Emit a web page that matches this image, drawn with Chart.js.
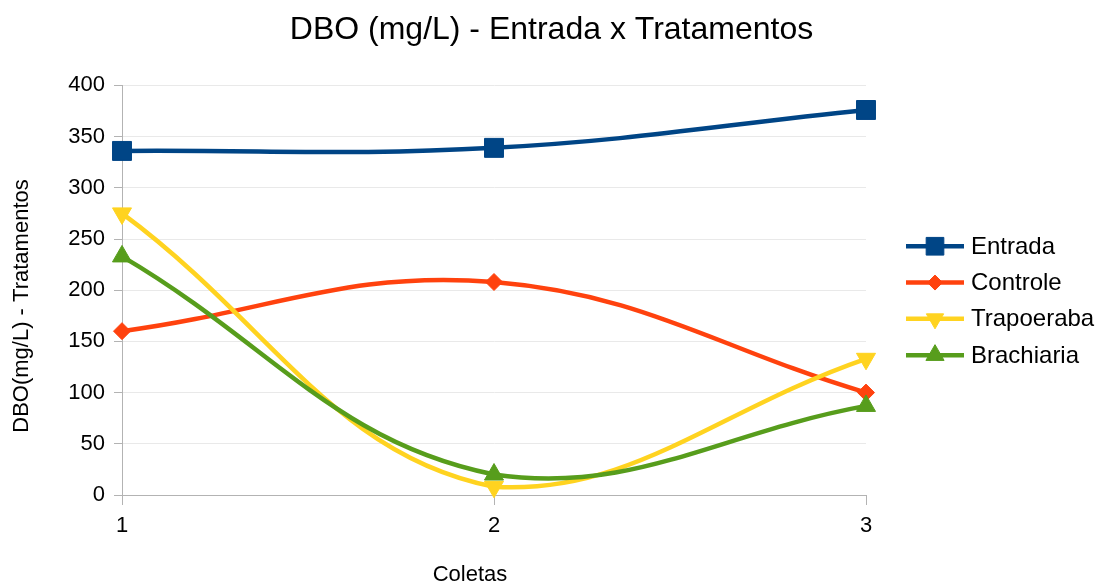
<!DOCTYPE html>
<html>
<head>
<meta charset="utf-8">
<script src="https://cdn.jsdelivr.net/npm/chart.js"></script>
<style>
  html, body { margin: 0; padding: 0; background: #ffffff; }
  #wrap { width: 1103px; height: 585px; position: relative; }
</style>
</head>
<body>
<div id="wrap"><canvas id="c"></canvas></div>
<script>
const categories = ['1', '2', '3'];
const entrada    = [336, 339, 376];
const controle   = [160, 208, 100];
const trapoeraba = [275, 8, 133];
const brachiaria = [233, 20, 87];
const seriesNames = ['Entrada', 'Controle', 'Trapoeraba', 'Brachiaria'];
const yTicks = { min: 0, max: 400, step: 50 };
const chartTitle = 'DBO (mg/L) - Entrada x Tratamentos';
const xTitle = 'Coletas';
const yTitle = 'DBO(mg/L) - Tratamentos';

const FONT = '"Liberation Sans", Arial, sans-serif';
const COLORS = ['#004586', '#ff420e', '#ffd320', '#579d1c'];
const AXIS = '#b3b3b3';
const GRID = '#e9e9e9';

const legendMarkers = [
  { pointStyle: 'rect', rotation: 0, radius: 12.5 },
  { pointStyle: 'rectRot', rotation: 0, radius: 7.5 },
  { pointStyle: 'triangle', rotation: 180, radius: 10 },
  { pointStyle: 'triangle', rotation: 0, radius: 10.5 }
];

function drawMarker(ctx, m, x, y) {
  if (Chart.helpers && Chart.helpers.drawPoint) {
    Chart.helpers.drawPoint(ctx, { pointStyle: m.pointStyle, rotation: m.rotation, radius: m.radius, borderWidth: 1 }, x, y);
  }
}

const sideLegendAndTitles = {
  id: 'sideLegendAndTitles',
  afterDraw(chart) {
    const ctx = chart.ctx;
    const area = chart.chartArea;
    // axis titles
    ctx.save();
    ctx.fillStyle = '#000000';
    ctx.font = '22px ' + FONT;
    ctx.textAlign = 'center';
    ctx.textBaseline = 'middle';
    ctx.fillText(xTitle, 470, 575);
    ctx.translate(22, 306);
    ctx.rotate(-Math.PI / 2);
    ctx.fillText(yTitle, 0, 0);
    ctx.restore();
    // legend
    const x0 = area.right + 40;
    const lineW = 58;
    const rowH = 36.3;
    const yc = (area.top + area.bottom) / 2 + 10.5;
    chart.data.datasets.forEach((ds, i) => {
      const y = yc + (i - 1.5) * rowH;
      ctx.save();
      ctx.strokeStyle = ds.borderColor;
      ctx.fillStyle = ds.borderColor;
      ctx.lineWidth = 4.5;
      ctx.beginPath();
      ctx.moveTo(x0, y);
      ctx.lineTo(x0 + lineW, y);
      ctx.stroke();
      ctx.lineWidth = 1;
      drawMarker(ctx, legendMarkers[i], x0 + lineW / 2, y);
      ctx.fillStyle = '#000000';
      ctx.font = '24px ' + FONT;
      ctx.textBaseline = 'middle';
      ctx.textAlign = 'left';
      ctx.fillText(ds.label, x0 + lineW + 7, y + 1);
      ctx.restore();
    });
  }
};

function makeDataset(i, values, style, rotation, radius, order) {
  return {
    label: seriesNames[i],
    data: values,
    borderColor: COLORS[i],
    backgroundColor: COLORS[i],
    borderWidth: 4.5,
    pointStyle: style,
    pointRotation: rotation,
    pointRadius: radius,
    pointHoverRadius: radius,
    pointBorderWidth: 1,
    pointBorderColor: COLORS[i],
    pointBackgroundColor: COLORS[i],
    tension: 0.4,
    fill: false,
    clip: false,
    order: order,
    yAxisID: 'y'
  };
}

new Chart(document.getElementById('c'), {
  type: 'line',
  data: {
    labels: categories,
    datasets: [
      makeDataset(0, entrada, 'rect', 0, 13.4, 3),
      makeDataset(1, controle, 'rectRot', 0, 8.5, 2),
      makeDataset(2, trapoeraba, 'triangle', 180, 11, 1),
      makeDataset(3, brachiaria, 'triangle', 0, 11, 0)
    ]
  },
  options: {
    responsive: true,
    maintainAspectRatio: false,
    animation: false,
    layout: { padding: { left: 0, right: 0, top: 0, bottom: 0 } },
    plugins: {
      legend: { display: false },
      tooltip: { enabled: false },
      title: {
        display: true,
        text: chartTitle,
        color: '#000000',
        font: { family: FONT, size: 32, weight: 'normal' },
        padding: { top: 11, bottom: 36 },
        align: 'center'
      }
    },
    scales: {
      x: {
        type: 'category',
        offset: false,
        grid: {
          display: true,
          drawOnChartArea: false,
          tickLength: 10,
          tickColor: AXIS
        },
        border: { display: true, color: AXIS, width: 1 },
        ticks: {
          color: '#000000',
          font: { family: FONT, size: 22 },
          padding: 8,
          maxRotation: 0
        },
        title: { display: false },
        afterFit(scale) { scale.height = 90; }
      },
      y: {
        position: 'left',
        min: yTicks.min,
        max: yTicks.max,
        grid: {
          color: GRID,
          tickColor: AXIS,
          tickLength: 8,
          lineWidth: 1
        },
        border: { display: true, color: AXIS, width: 1 },
        ticks: {
          stepSize: yTicks.step,
          color: '#000000',
          font: { family: FONT, size: 22 },
          padding: 9
        },
        title: { display: false },
        afterFit(scale) { scale.width = 122; }
      },
      legendSpace: {
        type: 'linear',
        axis: 'y',
        position: 'right',
        display: true,
        grid: { display: false, drawTicks: false },
        border: { display: false },
        ticks: { display: false },
        afterFit(scale) { scale.width = 237; }
      }
    }
  },
  plugins: [sideLegendAndTitles]
});
</script>
</body>
</html>
